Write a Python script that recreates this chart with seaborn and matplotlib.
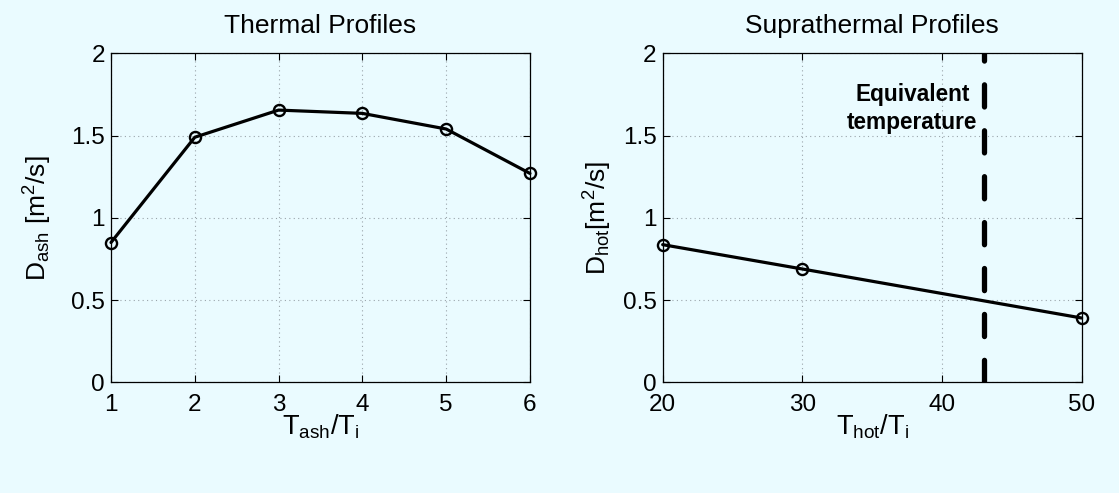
import matplotlib
matplotlib.use("Agg")
import matplotlib.pyplot as plt
import seaborn as sns
import pandas as pd

# Thermal (ash) profiles
t_ash = [1, 2, 3, 4, 5, 6]
d_ash = [0.85, 1.49, 1.655, 1.635, 1.54, 1.27]

# Suprathermal (hot) profiles
t_hot = [20, 30, 50]
d_hot = [0.837, 0.689, 0.391]

# Equivalent temperature marker
t_equiv = 43

y_ticks = [0, 0.5, 1, 1.5, 2]
y_tick_labels = ["0", "0.5", "1", "1.5", "2"]
x_ticks_ash = [1, 2, 3, 4, 5, 6]
x_ticks_hot = [20, 30, 40, 50]

BG = "#EAFBFF"

sns.set_theme(style="ticks")
plt.rcParams["font.family"] = ["Liberation Sans", "DejaVu Sans"]
plt.rcParams["mathtext.fontset"] = "custom"
plt.rcParams["mathtext.rm"] = "Liberation Sans"
plt.rcParams["mathtext.it"] = "Liberation Sans"
plt.rcParams["mathtext.default"] = "regular"
plt.rcParams["text.color"] = "black"
plt.rcParams["axes.labelcolor"] = "black"

fig = plt.figure(figsize=(11.19, 4.93), dpi=100, facecolor=BG)
ax1 = fig.add_axes([0.0992, 0.2245, 0.3744, 0.6673])
ax2 = fig.add_axes([0.5922, 0.2245, 0.3744, 0.6673])

df_ash = pd.DataFrame({"T": t_ash, "D": d_ash})
df_hot = pd.DataFrame({"T": t_hot, "D": d_hot})

line_kw = dict(color="black", linewidth=2.3, marker="o", markersize=8,
               markerfacecolor="none", markeredgecolor="black",
               markeredgewidth=1.7, legend=False, clip_on=False, zorder=5)

sns.lineplot(data=df_ash, x="T", y="D", ax=ax1, **line_kw)
sns.lineplot(data=df_hot, x="T", y="D", ax=ax2, **line_kw)

ax2.axvline(t_equiv, ymin=0, ymax=1, color="black", linewidth=3.8,
            linestyle=(0, (4.2, 4.5)), dash_capstyle="round", zorder=3)
ax2.text(t_equiv - 0.45, 1.665, "Equivalent\ntemperature", ha="right",
         va="center", multialignment="center", fontsize=16.3,
         fontweight="bold", linespacing=1.3)

for ax, xt, xlim in [(ax1, x_ticks_ash, (1, 6)), (ax2, x_ticks_hot, (20, 50))]:
    ax.set_facecolor(BG)
    ax.set_xlim(*xlim)
    ax.set_ylim(0, 2)
    ax.set_xticks(xt)
    ax.set_xticklabels([str(v) for v in xt])
    ax.set_yticks(y_ticks)
    ax.set_yticklabels(y_tick_labels)
    ax.grid(True, color="#9aa4aa", linestyle=(0, (1, 3)), linewidth=0.8)
    ax.tick_params(direction="in", length=5, width=0.8, top=True, right=True,
                   labelsize=17.5, colors="black")
    ax.tick_params(axis="x", pad=8.5)
    ax.tick_params(axis="y", pad=4.5)
    for s in ax.spines.values():
        s.set_color("black")
        s.set_linewidth(0.9)
        s.set_zorder(4)

ax1.set_title("Thermal Profiles", fontsize=19, pad=14.5)
ax2.set_title("Suprathermal Profiles", fontsize=19, pad=14.5)

ax1.set_xlabel(r"T$_{ash}$/T$_{i}$", fontsize=19.5, labelpad=-2.5)
ax2.set_xlabel(r"T$_{hot}$/T$_{i}$", fontsize=19.5, labelpad=-2.5)
ax1.set_ylabel(r"D$_{ash}$ [m$^{2}$/s]", fontsize=19, labelpad=12)
ax2.set_ylabel(r"D$_{hot}$[m$^{2}$/s]", fontsize=19, labelpad=6)

fig.savefig("out.png", dpi=100, facecolor=BG)
